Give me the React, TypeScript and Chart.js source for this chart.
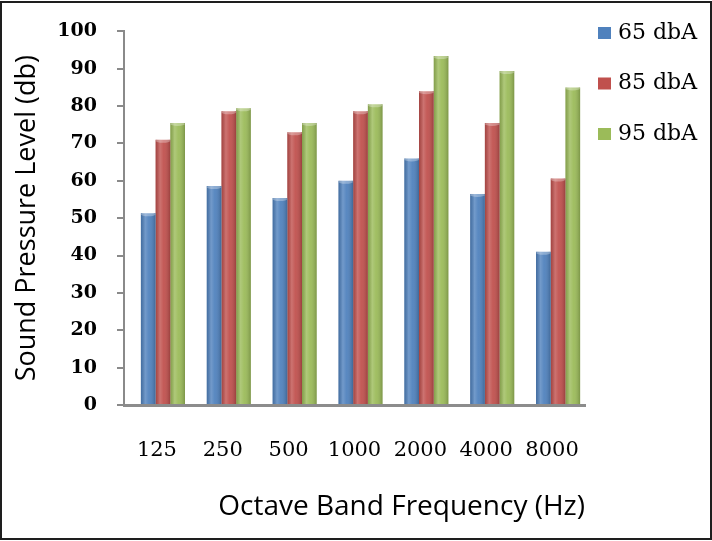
import React, { useEffect, useRef } from "react";
import { Chart, registerables } from "chart.js";

Chart.register(...registerables);

const categories = ["125", "250", "500", "1000", "2000", "4000", "8000"];
const seriesLabels = ["65 dbA", "85 dbA", "95 dbA"];
const dba65 = [51.3, 58.6, 55.4, 60, 66, 56.5, 41];
const dba85 = [71, 78.6, 73, 78.6, 84, 75.5, 60.6];
const dba95 = [75.5, 79.4, 75.5, 80.5, 93.4, 89.4, 85];
const seriesColors = ["#4F81BD", "#C0504D", "#9BBB59"];
const yMin = 0;
const yMax = 100;
const yStep = 10;

const depthPlugin = {
  id: "depth3d",
  beforeDatasetsDraw(chart: any) {
    chart.ctx.save();
    chart.ctx.translate(6, 0);
  },
  afterDatasetsDraw(chart: any) {
    const ctx = chart.ctx;
    chart.data.datasets.forEach((_: any, di: number) => {
      const meta = chart.getDatasetMeta(di);
      meta.data.forEach((el: any) => {
        const w = el.width;
        const x0 = el.x - w / 2;
        const top = Math.min(el.y, el.base);
        const h = Math.abs(el.base - el.y);
        const g = ctx.createLinearGradient(x0, 0, x0 + w, 0);
        g.addColorStop(0, "rgba(0,0,0,0.15)");
        g.addColorStop(0.3, "rgba(255,255,255,0.2)");
        g.addColorStop(0.55, "rgba(255,255,255,0.06)");
        g.addColorStop(1, "rgba(0,0,0,0.2)");
        ctx.fillStyle = g;
        ctx.fillRect(x0, top, w, h);
        ctx.fillStyle = "rgba(255,255,255,0.3)";
        ctx.beginPath();
        ctx.ellipse(el.x, top + 1, w / 2, 2, 0, 0, Math.PI * 2);
        ctx.fill();
      });
    });
    ctx.restore();
  },
};

const sideLegendPlugin = {
  id: "sideLegend",
  afterDraw(chart: any) {
    const ctx = chart.ctx;
    ctx.save();
    ctx.font = '22px "DejaVu Serif"';
    ctx.textBaseline = "middle";
    ctx.textAlign = "left";
    chart.data.datasets.forEach((ds: any, i: number) => {
      const y = 33 + i * 50.5;
      ctx.fillStyle = ds.backgroundColor;
      ctx.fillRect(598, y - 6, 13, 12);
      ctx.fillStyle = "#000";
      ctx.fillText(ds.label, 618, y);
    });
    ctx.restore();
  },
};

export default function App() {
  const canvasRef = useRef<HTMLCanvasElement>(null);

  useEffect(() => {
    document.body.style.margin = "0";
    const canvas = canvasRef.current;
    if (!canvas) return;
    const seriesValues = [dba65, dba85, dba95];
    const chart = new Chart(canvas, {
      type: "bar",
      data: {
        labels: categories,
        datasets: seriesLabels.map((label, i) => ({
          label,
          data: seriesValues[i],
          backgroundColor: seriesColors[i],
          borderWidth: 0,
          categoryPercentage: 0.67,
          barPercentage: 1.0,
        })),
      },
      options: {
        responsive: false,
        animation: false,
        layout: { padding: { top: 27, right: 127, bottom: 0, left: 0 } },
        plugins: {
          legend: { display: false },
          tooltip: { enabled: false },
        },
        scales: {
          x: {
            z: 1,
            ticks: {
              color: "#000",
              font: { family: "DejaVu Serif", size: 21 },
              padding: 33,
              maxRotation: 0,
            },
            grid: { display: false, drawTicks: false },
            border: { display: true, color: "#8c8c8c", width: 3 },
            title: {
              display: true,
              text: "Octave Band Frequency (Hz)",
              align: "end",
              color: "#000",
              font: { family: "Open Sans", size: 28 },
              padding: { top: 0, bottom: 17 },
            },
            afterFit: (s: any) => {
              s.height = 136;
            },
          },
          y: {
            min: yMin,
            max: yMax,
            ticks: {
              stepSize: yStep,
              color: "#000",
              font: { family: "DejaVu Serif", size: 19, weight: "bold" },
              padding: 20,
            },
            grid: {
              drawOnChartArea: false,
              drawTicks: true,
              tickLength: 7,
              color: "#8a8a8a",
              lineWidth: 2,
            },
            border: { display: true, color: "#8a8a8a", width: 2 },
            title: {
              display: true,
              text: "Sound Pressure Level (db)",
              color: "#000",
              font: { family: "Open Sans", size: 27 },
              padding: { top: 11, bottom: 0 },
            },
            afterFit: (s: any) => {
              s.width = 124;
            },
          },
        },
      },
      plugins: [depthPlugin, sideLegendPlugin],
    });
    return () => chart.destroy();
  }, []);

  return (
    <div style={{ position: "relative", width: 712, height: 541, background: "#fff" }}>
      <canvas ref={canvasRef} width={712} height={541} style={{ display: "block" }} />
      <div
        style={{
          position: "absolute",
          left: 0,
          top: 1,
          width: 712,
          height: 539,
          boxSizing: "border-box",
          border: "2px solid #1e1e1e",
          pointerEvents: "none",
        }}
      />
    </div>
  );
}
